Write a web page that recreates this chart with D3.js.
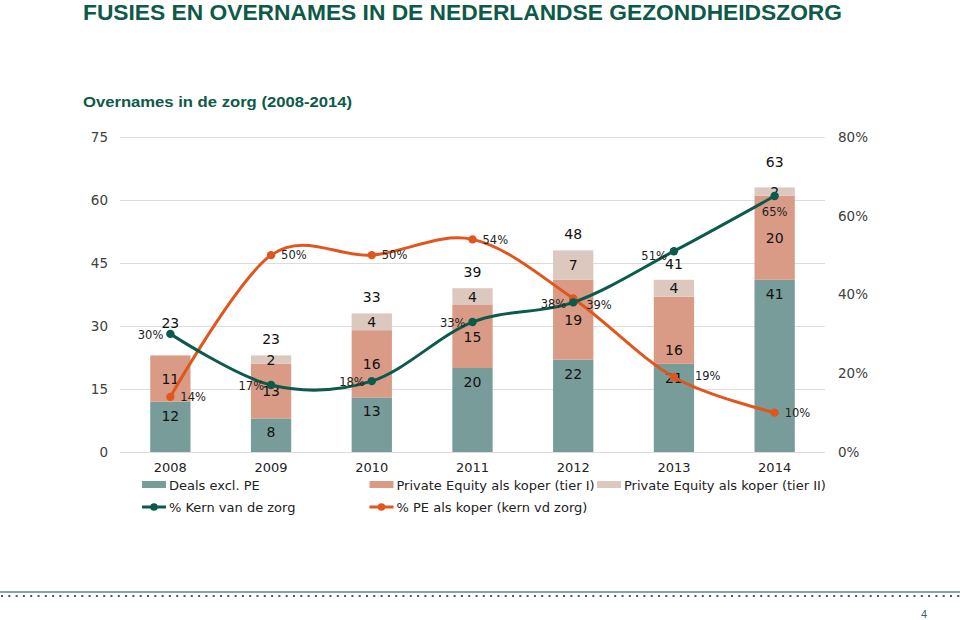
<!DOCTYPE html>
<html>
<head>
<meta charset="utf-8">
<script src="https://cdn.jsdelivr.net/npm/d3@7"></script>
<style>
  html, body { margin: 0; padding: 0; background: #ffffff; }
  svg { display: block; }
</style>
</head>
<body>
<svg id="chart" width="960" height="620"></svg>
<script>
// ---------------- DATA ----------------
const years = ["2008", "2009", "2010", "2011", "2012", "2013", "2014"];
const dealsExclPE = [12, 8, 13, 20, 22, 21, 41];
const peTier1 = [11, 13, 16, 15, 19, 16, 20];
const peTier2 = [0, 2, 4, 4, 7, 4, 2];
const pctKern = [0.30, 0.17, 0.18, 0.33, 0.38, 0.51, 0.65];
const pctPE = [0.14, 0.50, 0.50, 0.54, 0.39, 0.19, 0.10];
const leftTicks = [0, 15, 30, 45, 60, 75];
const rightTicks = [0, 0.2, 0.4, 0.6, 0.8];
const barSeriesNames = ["Deals excl. PE", "Private Equity als koper (tier I)", "Private Equity als koper (tier II)"];
const lineSeriesNames = ["% Kern van de zorg", "% PE als koper (kern vd zorg)"];
const titleText = "FUSIES EN OVERNAMES IN DE NEDERLANDSE GEZONDHEIDSZORG";
const subtitleText = "Overnames in de zorg (2008-2014)";
const pageNumber = "4";

// ---------------- STYLE ----------------
const barColors = ["#789c99", "#d99b85", "#dcc8bf"];
const lineColors = ["#0c5a4b", "#e0561c"];
const green = "#0d5a49";
const font = "'DejaVu Sans', Verdana, sans-serif";

const svg = d3.select("#chart");

// Title & subtitle
svg.append("text")
  .attr("x", 83).attr("y", 20)
  .attr("font-family", "'Liberation Sans', Arial, sans-serif")
  .attr("font-weight", "bold").attr("font-size", 22)
  .attr("fill", green)
  .attr("textLength", 759).attr("lengthAdjust", "spacingAndGlyphs")
  .text(titleText);

svg.append("text")
  .attr("x", 83).attr("y", 107)
  .attr("font-family", "'Liberation Sans', Arial, sans-serif")
  .attr("font-weight", "bold").attr("font-size", 15.5)
  .attr("fill", green)
  .attr("textLength", 269).attr("lengthAdjust", "spacingAndGlyphs")
  .text(subtitleText);

// ---------------- SCALES ----------------
const x = d3.scaleBand().domain(years).range([120, 825]).paddingInner(0.6).paddingOuter(0.3);
const y = d3.scaleLinear().domain([0, 75]).range([452, 137]);
const y2 = d3.scaleLinear().domain([0, 0.8]).range([452, 137]);

// Gridlines + left axis
const gLeft = svg.append("g").attr("transform", "translate(120,0)")
  .call(d3.axisLeft(y).tickValues(leftTicks).tickSizeInner(-705).tickSizeOuter(0).tickPadding(12));
gLeft.select(".domain").remove();
gLeft.selectAll(".tick line").attr("x1", 0).attr("x2", 705).attr("stroke", "#dcdcdc").attr("stroke-width", 1);
gLeft.selectAll(".tick text").attr("font-family", font).attr("font-size", 13.5).attr("fill", "#404040");

// Right axis
const gRight = svg.append("g").attr("transform", "translate(825,0)")
  .call(d3.axisRight(y2).tickValues(rightTicks).tickSize(0).tickPadding(13).tickFormat(d3.format(".0%")));
gRight.select(".domain").remove();
gRight.selectAll(".tick text").attr("font-family", font).attr("font-size", 13.5).attr("fill", "#404040");

// Bottom axis
const gBottom = svg.append("g").attr("transform", "translate(0,452)")
  .call(d3.axisBottom(x).tickSize(0).tickPadding(11));
gBottom.select(".domain").remove();
gBottom.selectAll(".tick text").attr("font-family", font).attr("font-size", 13).attr("fill", "#222");

// ---------------- STACKED BARS ----------------
const rows = years.map((yr, i) => ({ year: yr, s0: dealsExclPE[i], s1: peTier1[i], s2: peTier2[i] }));
const stack = d3.stack().keys(["s0", "s1", "s2"])(rows);

const layers = svg.append("g").selectAll("g").data(stack).join("g")
  .attr("fill", (d, i) => barColors[i]);
layers.selectAll("rect").data(d => d).join("rect")
  .attr("x", d => x(d.data.year))
  .attr("width", x.bandwidth())
  .attr("y", d => y(d[1]))
  .attr("height", d => y(d[0]) - y(d[1]));

// segment labels: bottom series "inside end", others centred
const segNudge = { "1-2013": 20 };
const segLabels = svg.append("g");
stack.forEach((layer, li) => {
  layer.forEach(d => {
    const v = d[1] - d[0];
    if (v <= 0) return;
    const ly = li === 0 ? y(d[1]) + 14 : y((d[0] + d[1]) / 2) + (segNudge[li + "-" + d.data.year] || 0);
    segLabels.append("text")
      .attr("x", x(d.data.year) + x.bandwidth() / 2)
      .attr("y", ly)
      .attr("dy", "0.36em")
      .attr("text-anchor", "middle")
      .attr("font-family", font).attr("font-size", 14).attr("fill", "#111")
      .text(v);
  });
});

// totals above bars
const totalExtraLift = { "2008": 16, "2014": 9 };
rows.forEach(r => {
  const tot = r.s0 + r.s1 + r.s2;
  segLabels.append("text")
    .attr("x", x(r.year) + x.bandwidth() / 2)
    .attr("y", y(tot) - 16 - (totalExtraLift[r.year] || 0))
    .attr("dy", "0.36em")
    .attr("text-anchor", "middle")
    .attr("font-family", font).attr("font-size", 14).attr("fill", "#111")
    .text(tot);
});

// ---------------- LINES ----------------
const cx = yr => x(yr) + x.bandwidth() / 2;
const lineGen = d3.line().x(d => cx(d.year)).y(d => y2(d.v)).curve(d3.curveCardinal.tension(0));
const lineData = [
  years.map((yr, i) => ({ year: yr, v: pctKern[i] })),
  years.map((yr, i) => ({ year: yr, v: pctPE[i] }))
];
const order = [1, 0];
order.forEach(k => {
  svg.append("path").datum(lineData[k])
    .attr("fill", "none").attr("stroke", lineColors[k]).attr("stroke-width", 3)
    .attr("stroke-linejoin", "round").attr("stroke-linecap", "round")
    .attr("d", lineGen);
  svg.append("g").selectAll("circle").data(lineData[k]).join("circle")
    .attr("cx", d => cx(d.year)).attr("cy", d => y2(d.v)).attr("r", 4.2)
    .attr("fill", lineColors[k]);
});

// percent labels
const fmt = d3.format(".0%");
const pctLabels = svg.append("g").attr("font-family", font).attr("font-size", 11.5).attr("fill", "#222");
lineData[0].forEach((d, i) => {
  const px = cx(d.year), py = y2(d.v);
  const below = i === years.length - 1;
  pctLabels.append("text")
    .attr("x", below ? px : px - 7)
    .attr("y", below ? py + 16 : py + (i === 5 ? 5 : 1))
    .attr("dy", "0.36em")
    .attr("text-anchor", below ? "middle" : "end")
    .text(fmt(d.v));
});
const peNudge = { 4: [3, 6], 5: [11, -1] };
lineData[1].forEach((d, i) => {
  const px = cx(d.year), py = y2(d.v);
  const n = peNudge[i] || [0, 0];
  pctLabels.append("text")
    .attr("x", px + 10 + n[0])
    .attr("y", py + n[1])
    .attr("dy", "0.36em")
    .attr("text-anchor", "start")
    .text(fmt(d.v));
});

// ---------------- LEGEND ----------------
const legend = svg.append("g").attr("font-family", font).attr("font-size", 13).attr("fill", "#222");
const legendItems = barSeriesNames.map((n, i) => ({ name: n, type: "bar", color: barColors[i] }))
  .concat(lineSeriesNames.map((n, i) => ({ name: n, type: "line", color: lineColors[i] })));
legendItems.forEach((it, i) => {
  const lx = 142 + (i % 3) * 227.5;
  const ly = 485 + Math.floor(i / 3) * 22;
  const g = legend.append("g").attr("transform", `translate(${lx},${ly})`);
  if (it.type === "bar") {
    g.append("rect").attr("x", 0).attr("y", -4).attr("width", 24).attr("height", 7).attr("fill", it.color);
  } else {
    g.append("line").attr("x1", 0).attr("x2", 24).attr("y1", 0).attr("y2", 0)
      .attr("stroke", it.color).attr("stroke-width", 3);
    g.append("circle").attr("cx", 12).attr("cy", 0).attr("r", 3.8).attr("fill", it.color);
  }
  g.append("text").attr("x", 27).attr("y", 0).attr("dy", "0.36em").text(it.name);
});

// ---------------- FOOTER ----------------
svg.append("line").attr("x1", 0).attr("x2", 960).attr("y1", 592).attr("y2", 592)
  .attr("stroke", "#5f8584").attr("stroke-width", 1.5);
svg.append("line").attr("x1", 1).attr("x2", 960).attr("y1", 596).attr("y2", 596)
  .attr("stroke", "#2f6866").attr("stroke-width", 2).attr("stroke-dasharray", "2,5.3");
svg.append("text").attr("x", 924).attr("y", 614).attr("dy", "0.36em")
  .attr("text-anchor", "middle").attr("font-family", "'Liberation Sans', Arial, sans-serif")
  .attr("font-size", 11).attr("fill", "#2f6866").text(pageNumber);
</script>
</body>
</html>
